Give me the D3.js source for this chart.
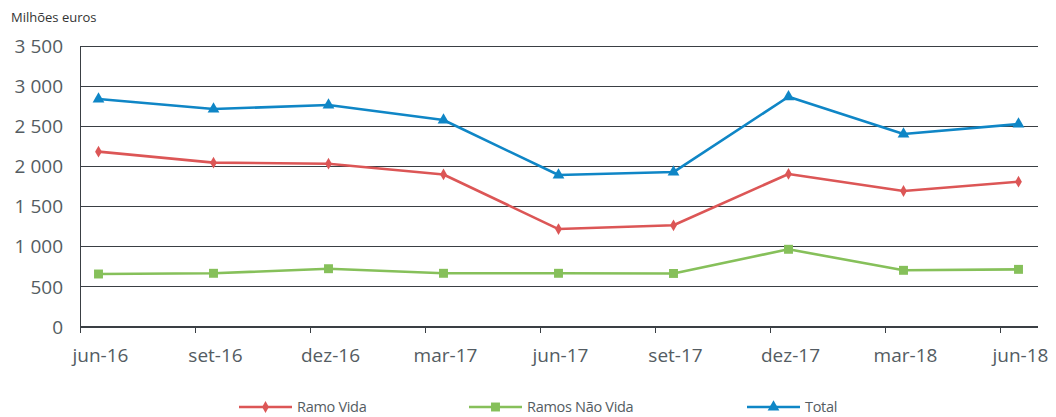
<!DOCTYPE html>
<html><head><meta charset="utf-8">
<script src="https://cdn.jsdelivr.net/npm/d3@7/dist/d3.min.js"></script>
<style>
body{margin:0;background:#fff;}
svg text{font-family:"Open Sans",sans-serif;}
</style></head>
<body><svg id="c" width="1056" height="417"></svg>
<script>
const categories = ["jun-16","set-16","dez-16","mar-17","jun-17","set-17","dez-17","mar-18","jun-18"];
const ramoVida = [2184,2047,2034,1900,1220,1267,1906,1694,1810];
const ramosNaoVida = [660,669,726,669,669,667,968,706,718];
const total = [2840,2715,2765,2578,1893,1930,2868,2404,2528];
const yTicks = [0,500,1000,1500,2000,2500,3000,3500];
const yTickLabels = ["0","500","1 000","1 500","2 000","2 500","3 000","3 500"];
const seriesNames = ["Ramo Vida","Ramos Não Vida","Total"];

const svg = d3.select("#c");
const x = d3.scaleLinear().domain([0,8]).range([98.5,1018.5]);
const y = d3.scaleLinear().domain([0,3500]).range([327,46]);
const left = x(-0.16), right = 1038;

// gridlines
svg.append("g").selectAll("line").data(yTicks.slice(1)).join("line")
  .attr("x1",left).attr("x2",right).attr("y1",d=>y(d)).attr("y2",d=>y(d))
  .attr("stroke","#3a3f44").attr("stroke-width",1).attr("shape-rendering","crispEdges");

// y labels
svg.append("g").selectAll("text").data(yTicks).join("text")
  .attr("x",63).attr("y",d=>y(d)).attr("dy","0.35em").attr("text-anchor","end")
  .attr("font-size",19).attr("fill","#545c62").text((d,i)=>yTickLabels[i]);

// y axis line
svg.append("line").attr("x1",left).attr("x2",left).attr("y1",y(3500)).attr("y2",y(0)+6)
  .attr("stroke","#3a3f44").attr("stroke-width",1).attr("shape-rendering","crispEdges");
// x axis line
svg.append("line").attr("x1",left).attr("x2",right).attr("y1",y(0)).attr("y2",y(0))
  .attr("stroke","#3a3f44").attr("stroke-width",1.2).attr("shape-rendering","crispEdges");
// x ticks
svg.append("g").selectAll("line").data(categories).join("line")
  .attr("x1",(d,i)=>x(i-0.16)).attr("x2",(d,i)=>x(i-0.16))
  .attr("y1",y(0)).attr("y2",y(0)+6)
  .attr("stroke","#3a3f44").attr("stroke-width",1).attr("shape-rendering","crispEdges");
// x labels
svg.append("g").selectAll("text").data(categories).join("text")
  .attr("x",(d,i)=>x(i)+2).attr("y",362).attr("text-anchor","middle")
  .attr("font-size",19).attr("fill","#545c62").text(d=>d);

svg.append("text").attr("x",11).attr("y",22).attr("font-size",13).attr("fill","#333").text("Milhões euros");

const colors = ["#dc5656","#86c05a","#0f86c6"];
const shapes = [d3.symbolDiamond, d3.symbolSquare, d3.symbolTriangle];
const sizes = [40, 80, 60];
const data = [ramoVida, ramosNaoVida, total];
const line = d3.line().x((d,i)=>x(i)).y(d=>y(d));

data.forEach((s,k)=>{
  svg.append("path").attr("d",line(s)).attr("fill","none")
    .attr("stroke",colors[k]).attr("stroke-width",2.6).attr("stroke-linejoin","round");
  svg.append("g").selectAll("path").data(s).join("path")
    .attr("transform",(d,i)=>`translate(${x(i)},${y(d)})`)
    .attr("d",d3.symbol().type(shapes[k]).size(sizes[k])).attr("fill",colors[k]);
});

// legend
const legX = [239, 469, 747];
seriesNames.forEach((n,k)=>{
  const g = svg.append("g").attr("transform",`translate(${legX[k]},407)`);
  g.append("line").attr("x1",0).attr("x2",53).attr("stroke",colors[k]).attr("stroke-width",2.6);
  g.append("path").attr("transform","translate(26.5,0)").attr("d",d3.symbol().type(shapes[k]).size(sizes[k])).attr("fill",colors[k]);
  g.append("text").attr("x",58).attr("dy","0.35em").attr("font-size",14.5).attr("fill","#545c62")
    .attr("letter-spacing",-0.3).text(n);
});
</script></body></html>
